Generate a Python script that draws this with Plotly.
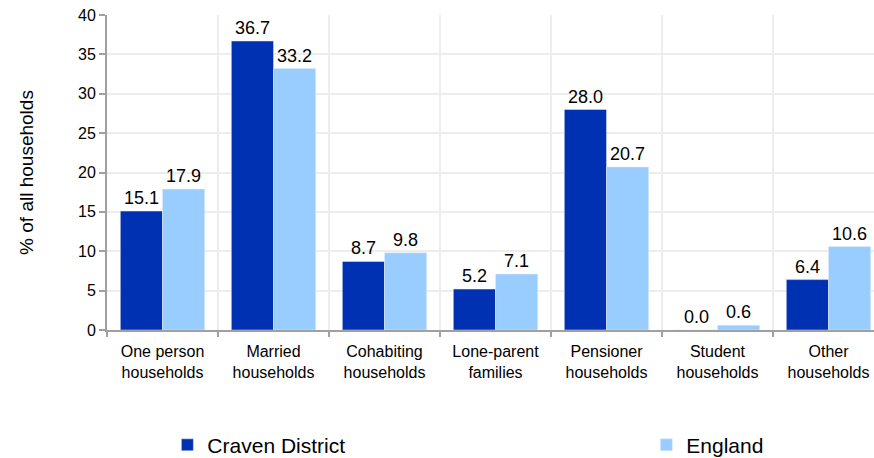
import plotly.graph_objects as go

categories = ["One person<br>households", "Married<br>households", "Cohabiting<br>households",
              "Lone-parent<br>families", "Pensioner<br>households", "Student<br>households",
              "Other<br>households"]
craven = [15.1, 36.7, 8.7, 5.2, 28.0, 0.0, 6.4]
england = [17.9, 33.2, 9.8, 7.1, 20.7, 0.6, 10.6]

font = "Liberation Sans, Arial, sans-serif"

fig = go.Figure()
fig.add_trace(go.Bar(x=categories, y=craven, name="Craven District", marker_color="#0031B2",
                     texttemplate="%{y:.1f}", textposition="outside", cliponaxis=False,
                     textfont=dict(size=18, color="black"), legend="legend"))
fig.add_trace(go.Bar(x=categories, y=england, name="England", marker_color="#99CCFF",
                     texttemplate="%{y:.1f}", textposition="outside", cliponaxis=False,
                     textfont=dict(size=18, color="black"), legend="legend2"))

leg_common = dict(orientation="h", xref="container", yref="container",
                  xanchor="left", yanchor="middle", font=dict(size=21, family=font, color="black"))

fig.update_layout(
    width=874, height=458,
    margin=dict(l=107, r=0, t=15, b=128),
    plot_bgcolor="white", paper_bgcolor="white",
    font=dict(family=font, color="black"),
    barmode="group", bargap=0.24, bargroupgap=0,
    showlegend=True,
    legend=dict(x=0.1915, y=0.028, **leg_common),
    legend2=dict(x=0.7395, y=0.028, **leg_common),
)
fig.update_xaxes(
    range=[-0.5, 6.41], tickson="boundaries", showgrid=True, gridcolor="#EDEDED", gridwidth=2,
    showline=True, linecolor="#A0A0A0", linewidth=2,
    ticks="outside", ticklen=5, tickcolor="#A0A0A0", tickwidth=2,
    tickfont=dict(size=16, family=font), ticklabelstandoff=6,
)
fig.update_yaxes(
    range=[0, 40], dtick=5, showgrid=True, gridcolor="#EDEDED", gridwidth=2,
    showline=True, linecolor="#A0A0A0", linewidth=2,
    ticks="outside", ticklen=6, tickcolor="#A0A0A0", tickwidth=2,
    tickfont=dict(size=16, family=font), zeroline=False, ticklabeloverflow="allow",
    title=dict(text="% of all households", font=dict(size=19, family=font), standoff=39),
)

fig.write_html("out.html", config={"displayModeBar": False},
               post_script="document.body.style.margin='0';document.body.style.overflow='hidden';")
